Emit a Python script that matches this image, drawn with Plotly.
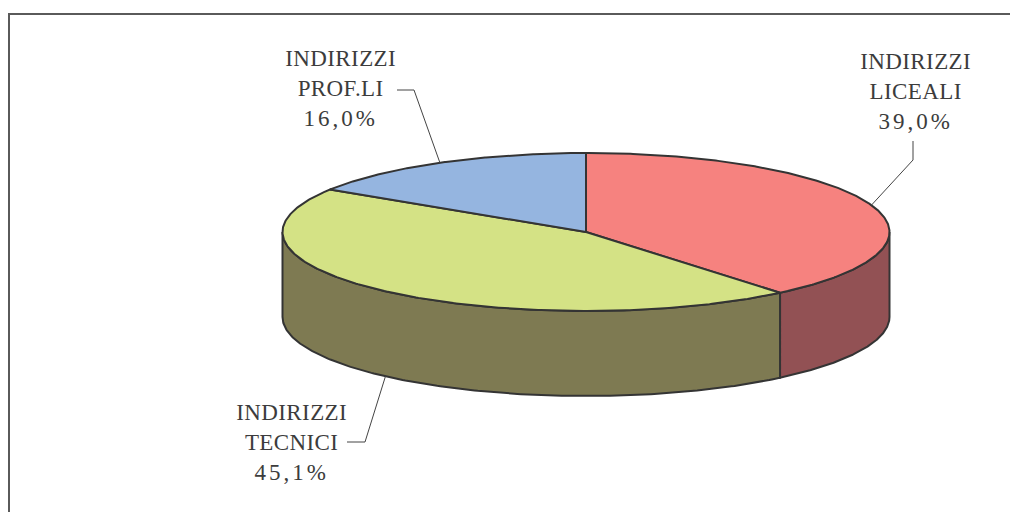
import numpy as np
import plotly.graph_objects as go

# Data
categories = ["INDIRIZZI<br>LICEALI", "INDIRIZZI<br>TECNICI", "INDIRIZZI<br>PROF.LI"]
values = [39.0, 45.1, 16.0]
value_labels = ["39,0%", "45,1%", "16,0%"]

# Styles
top_colors = ["#F6827F", "#D4E285", "#95B5E0"]
side_colors = ["#925154", "#7E7A52", "#5A6D86"]
EDGE = "#343434"
TEXT = "#3C3C3C"
FONT = "Liberation Serif"

# Layout geometry of the tilted pie (page pixels, used as axis units)
W, H = 1010, 512
CX, CY, RX, RY, DEPTH = 586, 232, 303.5, 79, 85

# Label placement: text centre, and elbow of the leader line
label_pos = [(915, 91), (291, 442), (340, 88)]
elbow_start = [(913, 141), (347, 442), (397, 90)]
elbow_knee = [(913, 160), (365, 442), (414, 90)]


def rim(theta, drop=0.0):
    """Point on the rim; theta in radians, clockwise from 12 o'clock."""
    return CX + RX * np.sin(theta), CY - RY * np.cos(theta) + drop


fractions = np.array(values) / sum(values)
edges = np.concatenate([[0], np.cumsum(fractions)]) * 2 * np.pi

fig = go.Figure()

# Visible side walls: only the near half of the rim (90 deg to 270 deg)
for i in range(len(values)):
    a = max(edges[i], np.pi / 2)
    b = min(edges[i + 1], 3 * np.pi / 2)
    if b <= a:
        continue
    t = np.linspace(a, b, 200)
    x1, y1 = rim(t)
    x2, y2 = rim(t[::-1], DEPTH)
    fig.add_trace(go.Scatter(
        x=np.r_[x1, x2, x1[0]], y=np.r_[y1, y2, y1[0]],
        mode="lines", fill="toself", fillcolor=side_colors[i],
        line=dict(color=EDGE, width=2), hoverinfo="skip", showlegend=False))

# Top faces
for i in range(len(values)):
    t = np.linspace(edges[i], edges[i + 1], 300)
    x, y = rim(t)
    fig.add_trace(go.Scatter(
        x=np.r_[CX, x, CX], y=np.r_[CY, y, CY],
        mode="lines", fill="toself", fillcolor=top_colors[i],
        line=dict(color=EDGE, width=2), hoverinfo="skip", showlegend=False))

# Leader lines end on the rim at each slice's mid-angle
for i in range(len(values)):
    mid = (edges[i] + edges[i + 1]) / 2
    near = np.pi / 2 < mid < 3 * np.pi / 2
    ex, ey = rim(mid, DEPTH if near else 0)
    fig.add_trace(go.Scatter(
        x=[elbow_start[i][0], elbow_knee[i][0], ex],
        y=[elbow_start[i][1], elbow_knee[i][1], ey],
        mode="lines", line=dict(color="#444444", width=1),
        hoverinfo="skip", showlegend=False))

for i in range(len(values)):
    fig.add_annotation(
        x=label_pos[i][0], y=label_pos[i][1], xref="x", yref="y",
        text=f"{categories[i]}<br>{value_labels[i]}",
        showarrow=False, align="center", xanchor="center", yanchor="middle",
        font=dict(family=FONT, size=23, color=TEXT))

# Chart-area frame, running off the right and bottom of the page
fig.add_trace(go.Scatter(
    x=[9, 9, W], y=[H, 14, 14], mode="lines",
    line=dict(color="#5A5A5A", width=2), hoverinfo="skip", showlegend=False))

fig.update_layout(
    width=W, height=H, margin=dict(l=0, r=0, t=0, b=0),
    paper_bgcolor="white", plot_bgcolor="white", showlegend=False,
    xaxis=dict(range=[0, W], visible=False, fixedrange=True),
    yaxis=dict(range=[H, 0], visible=False, fixedrange=True),
)

fig.write_html(
    "out.html",
    config={"displayModeBar": False},
    post_script="document.querySelectorAll('.annotation-text').forEach(e=>{"
                "e.style.letterSpacing='0.4px';"
                "const l=e.querySelectorAll('tspan.line');"
                "if(l.length)l[l.length-1].style.letterSpacing='3px';});"
                "document.body.style.margin='0';",
)
